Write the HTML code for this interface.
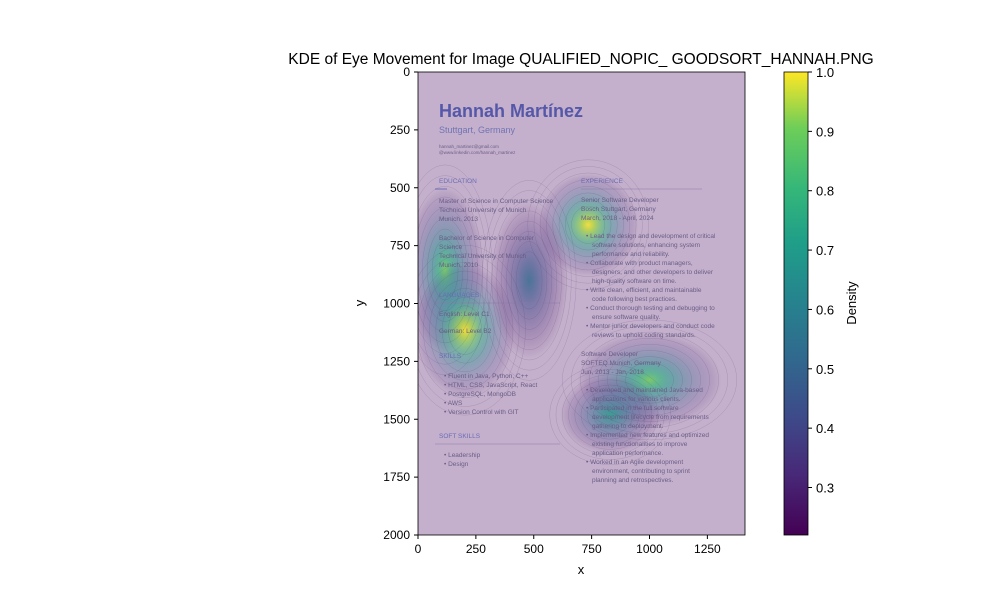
<!DOCTYPE html>
<html><head><meta charset="utf-8"><style>
body{margin:0;width:1000px;height:600px;background:#fff;font-family:"Liberation Sans",sans-serif;overflow:hidden}
svg{position:absolute;left:0;top:0}
</style></head><body>
<svg width="1000" height="600">
<defs>
<linearGradient id="cb" x1="0" y1="1" x2="0" y2="0">
<stop offset="0" stop-color="#440154"/><stop offset="0.13" stop-color="#482878"/><stop offset="0.25" stop-color="#3e4989"/><stop offset="0.38" stop-color="#31688e"/><stop offset="0.5" stop-color="#26828e"/><stop offset="0.63" stop-color="#1f9e89"/><stop offset="0.75" stop-color="#35b779"/><stop offset="0.88" stop-color="#6ece58"/><stop offset="1" stop-color="#fde725"/>
</linearGradient>
<clipPath id="pc"><rect x="418" y="72" width="327" height="463"/></clipPath>
</defs>
<text x="581" y="64" font-size="15.5" text-anchor="middle">KDE of Eye Movement for Image QUALIFIED_NOPIC_ GOODSORT_HANNAH.PNG</text>
<g clip-path="url(#pc)">
<rect x="418" y="72" width="327" height="463" fill="#c4b0cc"/>
<g id="kde"></g>
<g id="resume" font-size="6.5" fill="#6a5d86">
<text x="439" y="117" font-size="18" font-weight="bold" fill="#5558a8">Hannah Martínez</text>
<text x="439" y="133" font-size="9" fill="#7074b4">Stuttgart, Germany</text>
<text x="439" y="148" font-size="4.5">hannah_martinez@gmail.com</text>
<text x="439" y="154" font-size="4.5">@www.linkedin.com/hannah_martinez</text>
<text x="439" y="183" fill="#6b6cb5">EDUCATION</text>
<line x1="435" y1="189" x2="447" y2="189" stroke="#6b6cb5"/>
<text x="439" y="203">Master of Science in Computer Science</text>
<text x="439" y="212">Technical University of Munich</text>
<text x="439" y="221">Munich, 2013</text>
<text x="439" y="240">Bachelor of Science in Computer</text>
<text x="439" y="249">Science</text>
<text x="439" y="258">Technical University of Munich</text>
<text x="439" y="267">Munich, 2010</text>
<text x="439" y="297" fill="#6b6cb5">LANGUAGES</text>
<line x1="435" y1="303" x2="560" y2="303" stroke="#8a7aa8" stroke-width="0.5"/>
<text x="439" y="316">English: Level C1</text>
<text x="439" y="333">German: Level B2</text>
<text x="439" y="358" fill="#6b6cb5">SKILLS</text>
<text x="444" y="378">• Fluent in Java, Python, C++</text>
<text x="444" y="387">• HTML, CSS, JavaScript, React</text>
<text x="444" y="396">• PostgreSQL, MongoDB</text>
<text x="444" y="405">• AWS</text>
<text x="444" y="414">• Version Control with GIT</text>
<text x="439" y="438" fill="#6b6cb5">SOFT SKILLS</text>
<line x1="435" y1="444" x2="560" y2="444" stroke="#8a7aa8" stroke-width="0.5"/>
<text x="444" y="457">• Leadership</text>
<text x="444" y="466">• Design</text>
<text x="581" y="183" fill="#6b6cb5">EXPERIENCE</text>
<line x1="581" y1="189" x2="702" y2="189" stroke="#8a7aa8" stroke-width="0.5"/>
<text x="581" y="202">Senior Software Developer</text>
<text x="581" y="211">Bosch Stuttgart, Germany</text>
<text x="581" y="220">March, 2018 - April, 2024</text>
<text x="586" y="238">• Lead the design and development of critical</text>
<text x="592" y="247">software solutions, enhancing system</text>
<text x="592" y="256">performance and reliability.</text>
<text x="586" y="265">• Collaborate with product managers,</text>
<text x="592" y="274">designers, and other developers to deliver</text>
<text x="592" y="283">high-quality software on time.</text>
<text x="586" y="292">• Write clean, efficient, and maintainable</text>
<text x="592" y="301">code following best practices.</text>
<text x="586" y="310">• Conduct thorough testing and debugging to</text>
<text x="592" y="319">ensure software quality.</text>
<text x="586" y="328">• Mentor junior developers and conduct code</text>
<text x="592" y="337">reviews to uphold coding standards.</text>
<text x="581" y="356">Software Developer</text>
<text x="581" y="365">SOFTEQ Munich, Germany</text>
<text x="581" y="374">Jun, 2013 - Jan, 2018</text>
<text x="586" y="392">• Developed and maintained Java-based</text>
<text x="592" y="401">applications for various clients.</text>
<text x="586" y="410">• Participated in the full software</text>
<text x="592" y="419">development lifecycle from requirements</text>
<text x="592" y="428">gathering to deployment.</text>
<text x="586" y="437">• Implemented new features and optimized</text>
<text x="592" y="446">existing functionalities to improve</text>
<text x="592" y="455">application performance.</text>
<text x="586" y="464">• Worked in an Agile development</text>
<text x="592" y="473">environment, contributing to sprint</text>
<text x="592" y="482">planning and retrospectives.</text>
</g>
<g id="contours" fill="none" stroke="#4a3a6a" stroke-width="0.4" stroke-opacity="0.3"></g>
</g>
<rect x="418" y="72" width="327" height="463" fill="none" stroke="#000" stroke-width="0.8"/>
<g id="xaxis" font-size="12" text-anchor="middle"></g>
<g id="yaxis" font-size="12" text-anchor="end"></g>
<text x="581" y="574" font-size="13" text-anchor="middle">x</text>
<text x="364" y="303" font-size="13" text-anchor="middle" transform="rotate(-90 364 303)">y</text>
<rect x="784" y="72" width="24" height="463" fill="url(#cb)" stroke="#000" stroke-width="0.8"/>
<g id="cbaxis" font-size="13"></g>
<text x="856" y="303" font-size="13" text-anchor="middle" transform="rotate(-90 856 303)">Density</text>
</svg>
<script>
const xTicks=[0,250,500,750,1000,1250];
const yTicks=[0,250,500,750,1000,1250,1500,1750,2000];
const cbTicks=[0.3,0.4,0.5,0.6,0.7,0.8,0.9,1.0];
const hotX=[117,203,735,1000,830,480];
const hotY=[855,1115,660,1330,1480,900];
const hotD=[0.75,0.95,0.97,0.75,0.55,0.35];
const hotRX=[70,90,90,130,90,70];
const hotRY=[210,170,130,120,100,200];
const NS='http://www.w3.org/2000/svg';
const X0=418,Y0=72,S=463/2000;
const sx=v=>X0+v*S, sy=v=>Y0+v*S;
const cbY=v=>535-(v-0.22)/(1-0.22)*463;
function mk(t,a,p){const e=document.createElementNS(NS,t);for(const k in a)e.setAttribute(k,a[k]);p.appendChild(e);return e;}
const viridis=['#440154','#482878','#3e4989','#31688e','#26828e','#1f9e89','#35b779','#6ece58','#b5de2b','#fde725'];
const kde=document.getElementById('kde'),con=document.getElementById('contours'),defs=document.querySelector('defs');
hotX.forEach((x,i)=>{
  const g=mk('radialGradient',{id:'hg'+i},defs);
  const top=Math.round(hotD[i]*9);
  for(let s=top;s>=0;s--){mk('stop',{offset:((top-s)/top).toFixed(3),'stop-color':viridis[s],'stop-opacity':s===0?0:(0.08+0.75*Math.pow(s/top,1.3)).toFixed(3)},g);}
  const e=mk('ellipse',{cx:sx(x),cy:sy(hotY[i]),rx:hotRX[i]*S*2.4,ry:hotRY[i]*S*1.7,fill:'url(#hg'+i+')'},kde);
  
  
  for(let k=1;k<=8;k++){
    const c=mk('ellipse',{cx:sx(x),cy:sy(hotY[i]),rx:hotRX[i]*S*(0.5+k*0.3),ry:hotRY[i]*S*(0.4+k*0.22)},con);
    
    
  }
});
const xa=document.getElementById('xaxis');
xTicks.forEach(v=>{mk('line',{x1:sx(v),x2:sx(v),y1:535,y2:539,stroke:'#000'},xa);const t=mk('text',{x:sx(v),y:553},xa);t.textContent=v;});
const ya=document.getElementById('yaxis');
yTicks.forEach(v=>{mk('line',{x1:414,x2:418,y1:sy(v),y2:sy(v),stroke:'#000'},ya);const t=mk('text',{x:410,y:sy(v)+4},ya);t.textContent=v;});
const ca=document.getElementById('cbaxis');
cbTicks.forEach(v=>{mk('line',{x1:808,x2:812,y1:cbY(v),y2:cbY(v),stroke:'#000'},ca);const t=mk('text',{x:816,y:cbY(v)+5},ca);t.textContent=v.toFixed(1);});
</script>
</body></html>
